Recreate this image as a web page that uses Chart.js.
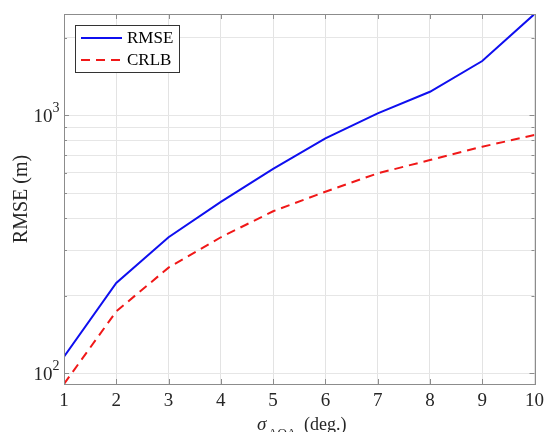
<!DOCTYPE html>
<html>
<head>
<meta charset="utf-8">
<script src="https://cdn.jsdelivr.net/npm/chart.js@4"></script>
<style>
  html, body { margin: 0; padding: 0; background: #fff; }
  #wrap { width: 550px; height: 432px; }
</style>
</head>
<body>
<div id="wrap"><canvas id="rmseChart" width="550" height="432"></canvas></div>
<script>
// DATA
var sigmaAoa = [1, 2, 3, 4, 5, 6, 7, 8, 9, 10];
var rmseVals = [116, 224, 337, 462, 620, 814, 1018, 1234, 1624, 2470];
var crlbVals = [91, 174, 257, 337, 425, 506, 596, 671, 756, 839];
var yGridVals = [100, 200, 300, 400, 500, 600, 700, 800, 900, 1000, 2000];
var yTickLabels = { 100: ["10", "2"], 1000: ["10", "3"] };
var xTickLabels = ["1", "2", "3", "4", "5", "6", "7", "8", "9", "10"];

var serif = "'Liberation Serif', 'Times New Roman', serif";
var textCol = "#262626";

var ctx = document.getElementById("rmseChart").getContext("2d");

// box, inner ticks, 10^n labels, legend and x label drawn MATLAB style
var matlabAxes = {
    id: "matlabAxes",
    afterDraw: function(chart) {
        var c = chart.ctx;
        var a = chart.chartArea;
        var xs = chart.scales.x;
        var ys = chart.scales.y;
        c.save();
        c.strokeStyle = "#8c8c8c";
        c.lineWidth = 1;
        // ticks
        c.beginPath();
        xs.ticks.forEach(function(t) {
            var px = Math.round(xs.getPixelForValue(t.value)) + 0.5;
            c.moveTo(px, a.bottom); c.lineTo(px, a.bottom - 5);
            c.moveTo(px, a.top); c.lineTo(px, a.top + 5);
        });
        ys.ticks.forEach(function(t) {
            var py = Math.round(ys.getPixelForValue(t.value)) + 0.5;
            var len = yTickLabels[t.value] ? 5 : 3;
            c.moveTo(a.left, py); c.lineTo(a.left + len, py);
            c.moveTo(a.right, py); c.lineTo(a.right - len, py);
        });
        c.stroke();
        // box
        c.strokeRect(Math.round(a.left) + 0.5, Math.round(a.top) + 0.5,
            Math.round(a.right - a.left), Math.round(a.bottom - a.top));

        // y tick labels with superscript
        c.fillStyle = textCol;
        c.textBaseline = "middle";
        c.textAlign = "right";
        ys.ticks.forEach(function(t) {
            var lab = yTickLabels[t.value];
            if (!lab) return;
            var py = ys.getPixelForValue(t.value);
            c.font = "14px " + serif;
            c.fillText(lab[1], a.left - 4.5, py - 7);
            var ew = c.measureText(lab[1]).width;
            c.font = "19px " + serif;
            c.fillText(lab[0], a.left - 4.5 - ew, py + 2);
        });

        // legend
        var lx = 75, ly = 25, lw = 104, lh = 47;
        c.fillStyle = "#fff";
        c.fillRect(lx, ly, lw, lh);
        c.strokeStyle = "#333";
        c.strokeRect(lx + 0.5, ly + 0.5, lw, lh);
        var rowsY = [38, 60];
        chart.data.datasets.forEach(function(ds, i) {
            c.beginPath();
            c.strokeStyle = ds.borderColor;
            c.lineWidth = ds.borderWidth;
            c.setLineDash(ds.borderDash || []);
            c.moveTo(81, rowsY[i]); c.lineTo(122, rowsY[i]);
            c.stroke();
            c.setLineDash([]);
            c.fillStyle = "#000";
            c.font = "17px " + serif;
            c.textBaseline = "middle";
            c.textAlign = "left";
            c.fillText(ds.label, 127, rowsY[i] + 1);
        });

        // x label: sigma_AOA (deg.)
        c.fillStyle = textCol;
        c.textBaseline = "alphabetic";
        c.textAlign = "left";
        c.font = "italic 19px " + serif;
        c.fillText("\u03C3", 257, 430);
        c.font = "13px " + serif;
        c.fillText("AOA", 268, 437);
        c.font = "18px " + serif;
        c.fillText("(deg.)", 304, 430);
        c.restore();
    }
};

var rmseChart = new Chart(ctx, {
    type: "line",
    data: {
        datasets: [{
            label: "RMSE",
            data: sigmaAoa.map(function(x, i) { return { x: x, y: rmseVals[i] }; }),
            borderColor: "#0f0fef",
            borderWidth: 2,
            pointRadius: 0,
            tension: 0,
            fill: false
        }, {
            label: "CRLB",
            data: sigmaAoa.map(function(x, i) { return { x: x, y: crlbVals[i] }; }),
            borderColor: "#f01818",
            borderWidth: 2,
            borderDash: [9, 6],
            pointRadius: 0,
            tension: 0,
            fill: false
        }]
    },
    options: {
        animation: false,
        responsive: false,
        layout: { padding: { left: 0, top: 14, right: 11, bottom: 0 } },
        plugins: {
            legend: { display: false },
            tooltip: { enabled: false }
        },
        scales: {
            x: {
                type: "linear",
                min: 1,
                max: 10,
                afterBuildTicks: function(scale) {
                    scale.ticks = sigmaAoa.map(function(v) { return { value: v }; });
                },
                afterFit: function(scale) { scale.height = 48; },
                border: { display: false },
                grid: { color: "#e3e3e3", drawTicks: false },
                ticks: {
                    padding: 6,
                    color: textCol,
                    font: { family: serif, size: 19 },
                    maxRotation: 0,
                    callback: function(v, i) { return xTickLabels[i]; }
                }
            },
            y: {
                type: "logarithmic",
                min: 91,
                max: 2470,
                afterBuildTicks: function(scale) {
                    scale.ticks = yGridVals.map(function(v) { return { value: v }; });
                },
                afterFit: function(scale) { scale.width = 64; },
                border: { display: false },
                grid: { color: "#e6e6e6", drawTicks: false },
                ticks: {
                    padding: 6,
                    autoSkip: false,
                    callback: function(v) { return ""; }
                },
                title: {
                    display: true,
                    text: "RMSE (m)",
                    color: textCol,
                    font: { family: serif, size: 20 },
                    padding: { top: 10, bottom: 0 }
                }
            }
        }
    },
    plugins: [matlabAxes]
});
</script>
</body>
</html>
